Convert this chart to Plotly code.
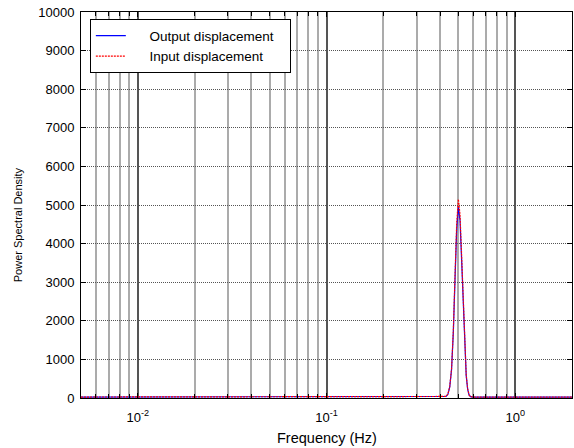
import plotly.graph_objects as go

# ---- data ----
freq_hz = [0.005, 0.1, 0.3, 0.40, 0.42, 0.43, 0.44, 0.45, 0.46, 0.47, 0.48,
           0.49, 0.50, 0.51, 0.52, 0.53, 0.54, 0.55, 0.56, 0.57, 0.58, 0.60,
           1.0, 2.0]
input_psd = [25, 25, 25, 25, 25, 40, 100, 300, 760, 1750, 3200,
             4550, 5150, 4750, 3700, 2450, 1350, 600, 230, 80, 35, 25,
             25, 25]
output_psd = [25, 25, 25, 25, 25, 40, 95, 290, 740, 1700, 3100,
              4400, 4950, 4600, 3580, 2370, 1300, 580, 220, 75, 35, 25,
              25, 25]

series_names = ["Output displacement", "Input displacement"]

major_x = [0.01, 0.1, 1]
major_x_text = ["10<sup>-2</sup>", "10<sup>-1</sup>", "10<sup>0</sup>"]
minor_x = [0.006, 0.007, 0.008, 0.009,
           0.02, 0.03, 0.04, 0.05, 0.06, 0.07, 0.08, 0.09,
           0.2, 0.3, 0.4, 0.5, 0.6, 0.7, 0.8, 0.9, 2]
y_ticks = list(range(0, 10001, 1000))
y_tick_text = [str(v) for v in y_ticks]

FONT = "Liberation Sans, Arial, sans-serif"
PAD_L = "\u00a0" * 5
PAD_R = "\u00a0" * 3

fig = go.Figure()
fig.add_trace(go.Scatter(x=freq_hz, y=output_psd, mode="lines",
                         name=PAD_L + series_names[0] + PAD_R,
                         line=dict(color="#0000ff", width=1.2)))
fig.add_trace(go.Scatter(x=freq_hz, y=input_psd, mode="lines",
                         name=PAD_L + series_names[1] + PAD_R,
                         line=dict(color="#ff0000", width=1.2, dash="2px,1px")))

fig.update_layout(
    width=574, height=448,
    margin=dict(l=81, r=2, t=12, b=50),
    paper_bgcolor="white", plot_bgcolor="white",
    font=dict(family=FONT, size=13, color="black"),
    showlegend=True,
    legend=dict(x=0.018, y=0.981, xanchor="left", yanchor="top",
                bgcolor="white", bordercolor="black", borderwidth=1,
                font=dict(size=13.5), tracegroupgap=0),
)

fig.update_xaxes(
    type="log", range=[-2.301, 0.301],
    tickmode="array", tickvals=major_x, ticktext=major_x_text,
    ticks="inside", ticklen=5, tickcolor="black",
    showline=True, linecolor="black", linewidth=1, mirror="ticks",
    showgrid=True, gridcolor="#555555", gridwidth=1.5,
    zeroline=False, tickfont=dict(size=13), ticklabelstandoff=7,
    minor=dict(tickmode="array", tickvals=minor_x, ticks="inside", ticklen=4,
               tickcolor="black", showgrid=True, gridcolor="#ababab",
               gridwidth=1.5),
)
fig.update_yaxes(
    range=[0, 10000], tickmode="array", tickvals=y_ticks, ticktext=y_tick_text,
    ticks="inside", ticklen=5, tickcolor="black",
    showline=True, linecolor="black", linewidth=1, mirror="ticks",
    showgrid=True, gridcolor="#555555", gridwidth=1, griddash="1px,1px",
    zeroline=False, tickfont=dict(size=13), ticklabelstandoff=3,
)

fig.add_annotation(text="Power Spectral Density", textangle=-90,
                   xref="paper", yref="paper", x=-0.128, y=0.448,
                   xanchor="center", yanchor="middle", showarrow=False,
                   font=dict(size=11))
fig.add_annotation(text="Frequency (Hz)",
                   xref="paper", yref="paper", x=0.5, y=-0.1036,
                   xanchor="center", yanchor="middle", showarrow=False,
                   font=dict(size=14.5))

fig.write_html("out.html")
